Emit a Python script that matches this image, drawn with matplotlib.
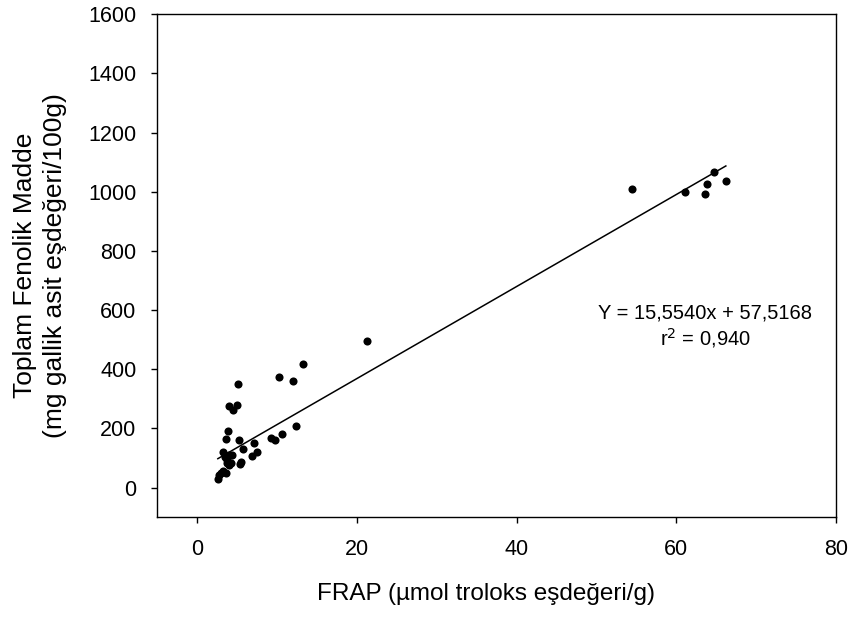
import matplotlib
matplotlib.use("Agg")
import matplotlib.pyplot as plt
import numpy as np

plt.rcParams['font.family'] = ['Liberation Sans', 'DejaVu Sans']

frap = [2.6, 2.8, 3.0, 3.3, 3.6, 3.2, 3.5, 3.8, 4.0, 4.2, 3.8, 4.4, 4.0, 3.6, 3.9,
        4.0, 4.5, 5.0, 5.1, 5.2, 5.8, 5.5, 5.4, 6.9, 7.5, 7.1, 9.3, 9.8, 10.6, 12.4,
        10.3, 12.0, 13.3, 21.3, 54.4, 61.1, 64.7, 63.9, 63.6, 66.2]
phenol = [28, 42, 48, 55, 50, 120, 105, 95, 112, 85, 82, 110, 78, 165, 190,
          275, 262, 280, 352, 162, 130, 88, 80, 108, 122, 150, 168, 160, 182, 208,
          375, 362, 418, 497, 1009, 1000, 1066, 1026, 991, 1035]

slope = 15.5540
intercept = 57.5168
equation = "Y = 15,5540x + 57,5168"
r2_text = "r$^2$ = 0,940"

fig = plt.figure(figsize=(8.54, 6.18), dpi=100)
ax = fig.add_axes([0.184, 0.163, 0.795, 0.814])

ax.scatter(frap, phenol, s=34, color='black', zorder=3, linewidths=0)
xl = np.array([min(frap), max(frap)])
ax.plot(xl, slope * xl + intercept, color='black', lw=1.1)

ax.set_xlim(-5, 80)
ax.set_ylim(-100, 1600)
ax.set_xticks([0, 20, 40, 60, 80])
ax.set_yticks(range(0, 1601, 200))
ax.tick_params(axis='both', direction='out', length=4.5, width=1, labelsize=15.5,
               top=False, right=False)
ax.tick_params(axis='x', pad=11.5)
ax.tick_params(axis='y', pad=10.5)
for s in ax.spines.values():
    s.set_linewidth(1)

ax.set_xlabel("FRAP (µmol troloks eşdeğeri/g)", fontsize=17.5, va='center')
ax.xaxis.set_label_coords((486 - 157) / 679, -(594 - 517) / 503)
ax.set_ylabel("Toplam Fenolik Madde\n(mg gallik asit eşdeğeri/100g)", fontsize=19,
              va='center', linespacing=1.3)
ax.yaxis.set_label_coords((40 - 157) / 679, 0.5)

ax.text(63.6, 589, equation, ha='center', va='center', fontsize=14.5)
ax.text(63.6, 505, r2_text, ha='center', va='center', fontsize=14.5)

fig.savefig("out.png", dpi=100)
